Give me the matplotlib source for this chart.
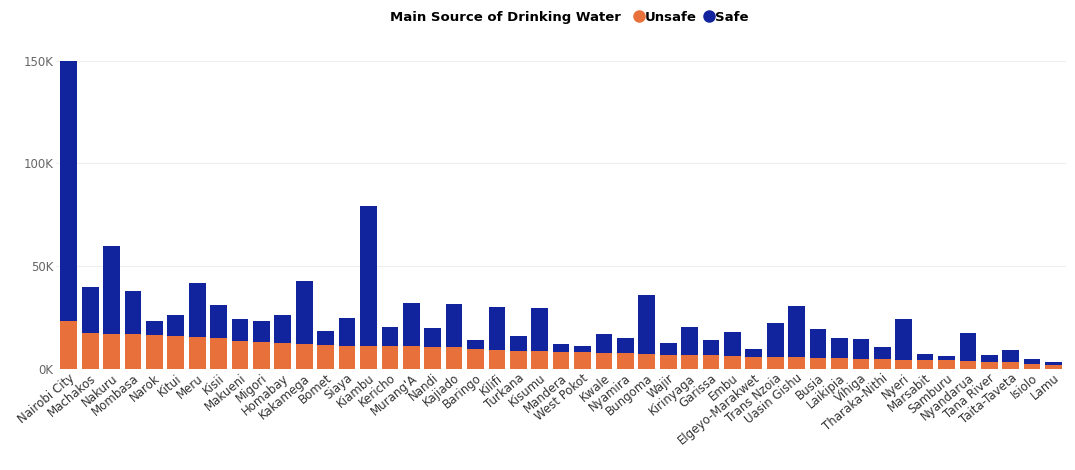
import matplotlib.pyplot as plt
import numpy as np
from matplotlib.ticker import FuncFormatter
from matplotlib.lines import Line2D

counties = ["Nairobi City", "Machakos", "Nakuru", "Mombasa", "Narok", "Kitui", "Meru", "Kisii",
            "Makueni", "Migori", "Homabay", "Kakamega", "Bomet", "Siaya", "Kiambu", "Kericho",
            "Murang'A", "Nandi", "Kajiado", "Baringo", "Kilifi", "Turkana", "Kisumu", "Mandera",
            "West Pokot", "Kwale", "Nyamira", "Bungoma", "Wajir", "Kirinyaga", "Garissa", "Embu",
            "Elgeyo-Marakwet", "Trans Nzoia", "Uasin Gishu", "Busia", "Laikipia", "Vihiga",
            "Tharaka-Nithi", "Nyeri", "Marsabit", "Samburu", "Nyandarua", "Tana River",
            "Taita-Taveta", "Isiolo", "Lamu"]
# thousands
total = [150, 39.7, 60, 37.7, 23.5, 26, 42, 31, 24.5, 23.5, 26, 43, 18.6, 25, 79.4, 20.6,
         32, 20, 31.4, 14.2, 30, 16.2, 29.5, 12.3, 11.3, 17.2, 15.2, 36, 12.7, 20.6, 14.2, 18.1,
         9.8, 22.5, 30.4, 19.6, 15.2, 14.7, 10.8, 24.5, 7.4, 6.4, 17.6, 6.6, 9.3, 5, 3.4]
unsafe = [23.5, 17.6, 17, 17, 16.5, 16, 15.5, 15, 13.5, 13, 12.5, 12, 11.5, 11, 11, 11,
          11, 10.8, 10.5, 9.5, 9, 8.8, 8.5, 8.3, 8.2, 8, 7.6, 7.5, 7, 7, 6.8, 6.5,
          6, 6, 5.8, 5.5, 5.5, 5, 4.8, 4.5, 4.3, 4.2, 4, 3.5, 3.3, 2.5, 1.8]

unsafe = np.array(unsafe) * 1000
safe = np.array(total) * 1000 - unsafe
ORANGE, BLUE = "#E8703A", "#12239E"

fig = plt.figure(figsize=(10.75, 4.7), dpi=100)
ax = fig.add_axes([0.052, 0.215, 0.94, 0.665])
x = np.arange(len(counties))
ax.bar(x, unsafe, width=0.78, color=ORANGE)
ax.bar(x, safe, bottom=unsafe, width=0.78, color=BLUE)

ax.set_xlim(-0.6, len(counties) - 0.4)
ax.set_ylim(0, 152000)
ax.set_yticks([0, 50000, 100000, 150000])
ax.yaxis.set_major_formatter(FuncFormatter(lambda v, p: f"{int(v/1000)}K"))
ax.grid(axis="y", color="#eeeeee", linewidth=0.8)
ax.set_axisbelow(True)
for s in ax.spines.values():
    s.set_visible(False)
ax.tick_params(axis="both", length=0, colors="#666666", labelsize=8.5, pad=2)
ax.set_xticks(x)
ax.set_xticklabels(counties, rotation=40, ha="right", rotation_mode="anchor",
                   color="#333333", fontsize=8.5)
ax.text(0.5, -0.36, "Counties", transform=ax.transAxes, ha="center", va="center",
        fontsize=10, fontweight="bold")

fig.text(0.578, 0.963, "Main Source of Drinking Water", ha="right", va="center",
         fontsize=9.5, fontweight="bold")
handles = [Line2D([], [], marker="o", linestyle="", color=ORANGE, markersize=8),
           Line2D([], [], marker="o", linestyle="", color=BLUE, markersize=8)]
fig.legend(handles, ["Unsafe", "Safe"], loc="center left", bbox_to_anchor=(0.578, 0.963),
           ncol=2, frameon=False, handlelength=0.8, handletextpad=0.1, columnspacing=0.5,
           prop={"size": 9.5, "weight": "bold"})

fig.savefig("out.png", dpi=100)
